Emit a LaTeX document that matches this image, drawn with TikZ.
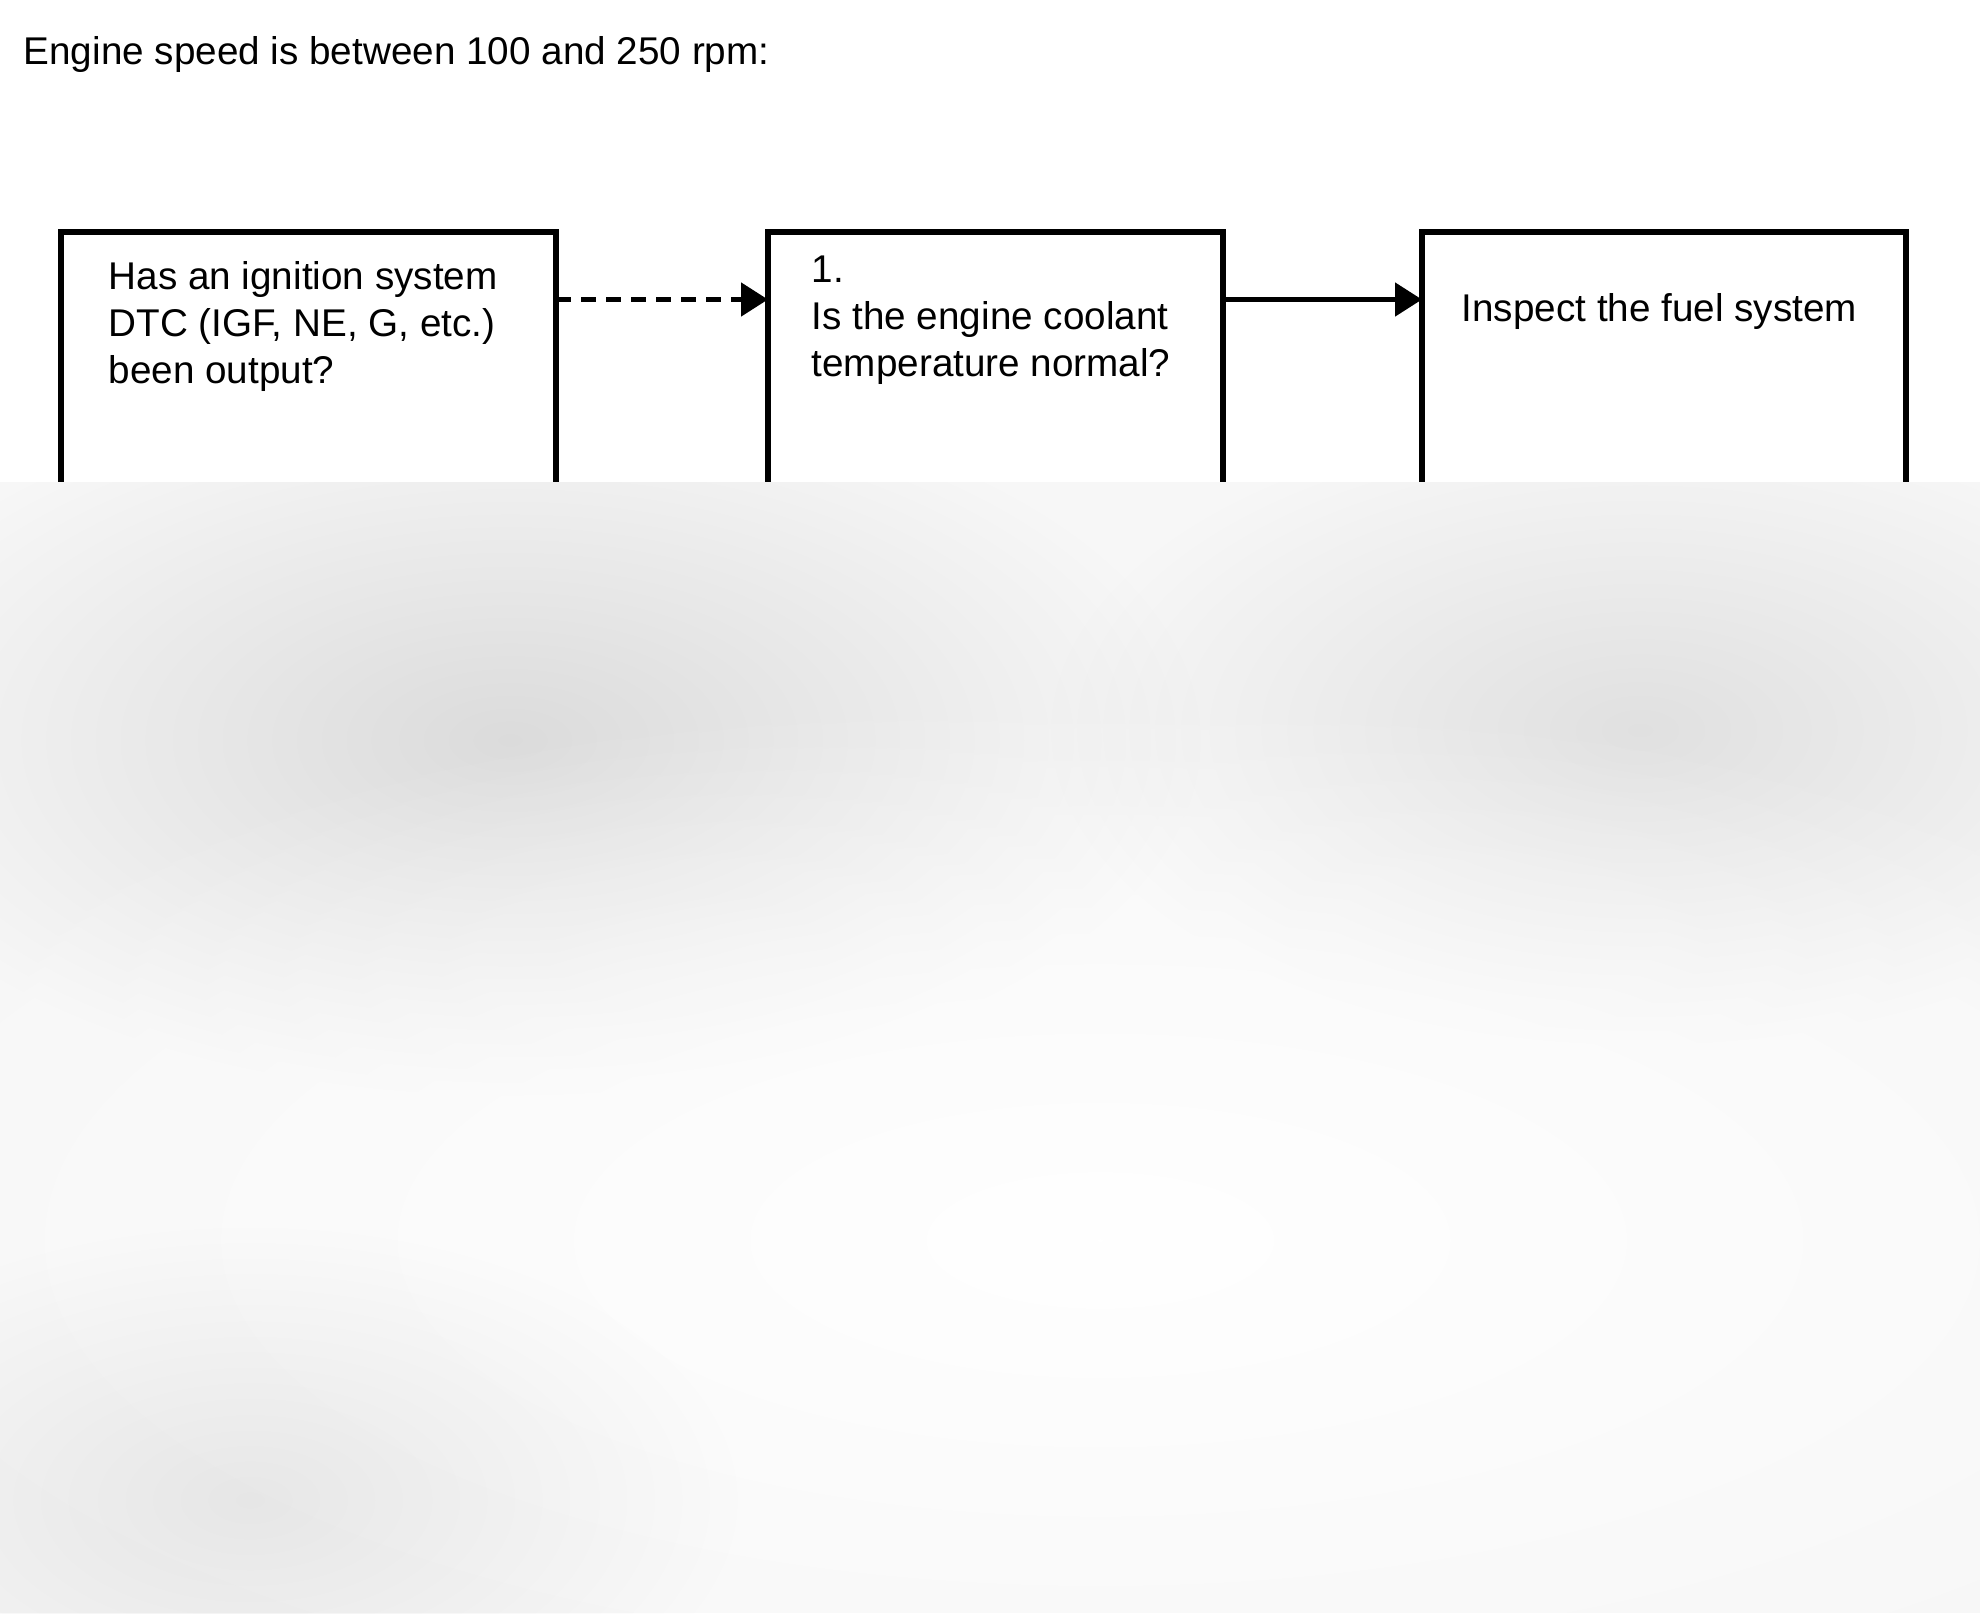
\documentclass[tikz,border=0pt]{standalone}
\usepackage{fontspec}
\setmainfont{Liberation Sans}
\usetikzlibrary{arrows.meta,fadings}

\tikzfading[name=soft blob,inner color=transparent!0,outer color=transparent!100]

\begin{document}
\begin{tikzpicture}
      \useasboundingbox (0,0) rectangle (19.8,-16.13);
      \node[anchor=north west,inner sep=0pt,font=\fontsize{11}{13.4}\selectfont] (title) at (0.23,-0.36) {Engine speed is between 100 and 250 rpm:};
      \begin{scope}[every node/.style={draw,rectangle,line width=0.06cm,anchor=north west,inner sep=0pt,outer sep=0pt,minimum height=4cm}]
        \node[minimum width=4.955cm] (ign) at (0.605,-2.32) {};
        \node[minimum width=4.55cm] (cool) at (7.68,-2.32) {};
        \node[minimum width=4.84cm] (fuel) at (14.22,-2.32) {};
      \end{scope}
      \begin{scope}[every node/.style={anchor=north west,inner sep=0pt,align=left,font=\fontsize{11}{13.4}\selectfont}]
        \node (ign text) at (1.08,-2.61) {Has an ignition system\\DTC (IGF, NE, G, etc.)\\been output?};
        \node (cool text) at (8.11,-2.55) {1.\\Is the engine coolant\\temperature normal?};
        \node (fuel text) at (14.61,-2.93) {Inspect the fuel system};
      \end{scope}
      \begin{scope}[every edge/.style={draw,line width=0.05cm,-{Triangle[length=0.27cm,width=0.33cm]}}]
        \path[dash pattern=on 0.15cm off 0.1cm] ([yshift=-0.675cm]ign.north east) edge ([yshift=-0.675cm]cool.north west);
        \path ([yshift=-0.675cm]cool.north east) edge ([yshift=-0.675cm]fuel.north west);
      \end{scope}
      % lower part of the page is greyed over
      \begin{scope}
        \clip (0,-4.82) rectangle (19.8,-16.13);
        \fill[gray!6] (0,-4.82) rectangle (19.8,-16.13);
        \begin{scope}[every path/.style={path fading=soft blob}]
          \fill[black,fill opacity=0.11] (5.1,-7.4) ellipse (7cm and 3.6cm);
          \fill[black,fill opacity=0.09] (16.4,-7.3) ellipse (6cm and 3.2cm);
          \fill[white,fill opacity=1] (11,-12.4) ellipse (14cm and 5.5cm);
          \fill[black,fill opacity=0.07] (2.5,-15) ellipse (5cm and 2.8cm);
        \end{scope}
      \end{scope}
    \end{tikzpicture}
\end{document}
